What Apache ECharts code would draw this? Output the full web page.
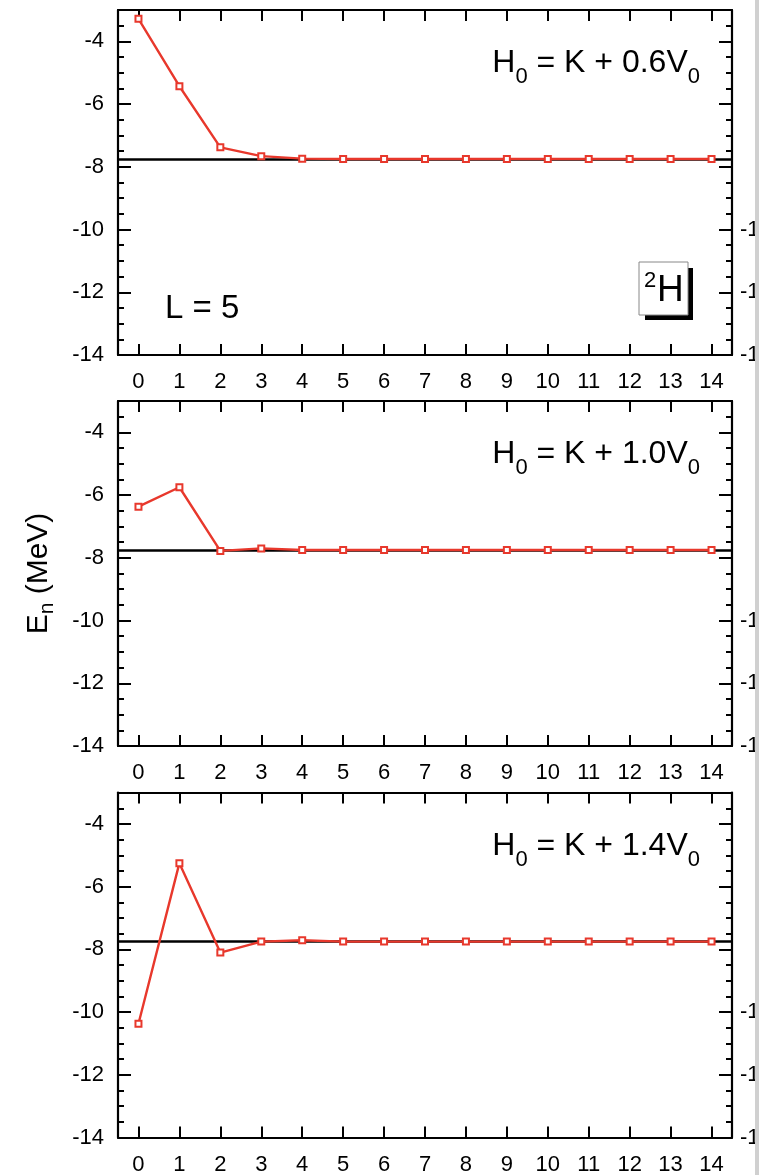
<!DOCTYPE html>
<html>
<head>
<meta charset="utf-8">
<script src="https://cdn.jsdelivr.net/npm/echarts@6/dist/echarts.min.js"></script>
<style>
  html, body { margin: 0; padding: 0; background: #fff; }
  #chart { width: 759px; height: 1175px; }
</style>
</head>
<body>
<div id="chart"></div>
<script>
// iteration index n on the x axis
const steps = ["0", "1", "2", "3", "4", "5", "6", "7", "8", "9", "10", "11", "12", "13", "14"];

// E_n (MeV) for the three starting Hamiltonians
const energies06 = [-3.28, -5.43, -7.38, -7.66, -7.74, -7.75, -7.75, -7.75, -7.75, -7.75, -7.75, -7.75, -7.75, -7.75, -7.75];
const energies10 = [-6.37, -5.75, -7.78, -7.70, -7.75, -7.75, -7.75, -7.75, -7.75, -7.75, -7.75, -7.75, -7.75, -7.75, -7.75];
const energies14 = [-10.37, -5.25, -8.10, -7.75, -7.71, -7.75, -7.75, -7.75, -7.75, -7.75, -7.75, -7.75, -7.75, -7.75, -7.75];

// exact deuteron energy (black reference line)
const exactEnergy = -7.75;

const panelTitles = [
  "H{s|0} = K + 0.6V{s|0}",
  "H{s|0} = K + 1.0V{s|0}",
  "H{s|0} = K + 1.4V{s|0}"
];
const panelData = [energies06, energies10, energies14];

const FONT = "Liberation Sans";
const RED = "#e8382c";
const gridTops = [10, 401, 792.6];
const gridHeight = 345;

const chart = echarts.init(document.getElementById("chart"));

const grid = [];
const xAxis = [];
const yAxis = [];
const series = [];
const title = [];

gridTops.forEach((top, i) => {
  grid.push({ left: 118, right: 27, top: top, height: gridHeight, outerBoundsMode: "none", containLabel: false });

  ["bottom", "top"].forEach((pos) => {
    xAxis.push({
      type: "category",
      gridIndex: i,
      position: pos,
      data: steps,
      boundaryGap: true,
      axisLine: { show: true, onZero: false, lineStyle: { color: "#000", width: 2.2 } },
      axisTick: { show: true, inside: true, length: 11, alignWithLabel: true, lineStyle: { color: "#000", width: 2 } },
      axisLabel: {
        show: pos === "bottom",
        color: "#000",
        fontSize: 22,
        fontFamily: FONT,
        margin: 16
      },
      splitLine: { show: false }
    });
  });

  // left + right: major ticks (every 2) and minor ticks (every 0.5)
  ["left", "right"].forEach((pos) => {
    yAxis.push({
      type: "value",
      gridIndex: i,
      position: pos,
      min: -14,
      max: -3,
      interval: 2,
      axisLine: { show: true, onZero: false, lineStyle: { color: "#000", width: 2.2 } },
      axisTick: { show: true, inside: true, length: 13, lineStyle: { color: "#000", width: 2 } },
      axisLabel: {
        show: pos === "left",
        showMaxLabel: false,
        color: "#000",
        fontSize: 22,
        fontFamily: FONT,
        margin: 14
      },
      splitLine: { show: false },
      name: pos === "left" && i === 1 ? "E{s|n} (MeV)" : "",
      nameLocation: "middle",
      nameRotate: 90,
      nameGap: 60,
      nameTextStyle: {
        color: "#000",
        fontSize: 30,
        fontFamily: FONT,
        rich: { s: { fontSize: 21, fontFamily: FONT, color: "#000", padding: [18, 0, 0, 0] } }
      }
    });
    yAxis.push({
      type: "value",
      gridIndex: i,
      position: pos,
      min: -14,
      max: -3,
      interval: 0.5,
      axisLine: { show: false, onZero: false },
      axisTick: { show: true, inside: true, length: 6, lineStyle: { color: "#000", width: 2 } },
      axisLabel: { show: false },
      splitLine: { show: false }
    });
  });

  // clipped tick labels of the neighbouring figure at the right edge
  yAxis.push({
    type: "value",
    gridIndex: i,
    position: "right",
    min: -14,
    max: -3,
    interval: 2,
    axisLine: { show: false, onZero: false },
    axisTick: { show: false },
    axisLabel: {
      show: true,
      showMaxLabel: false,
      color: "#000",
      fontSize: 22,
      fontFamily: FONT,
      margin: 8,
      formatter: (v) => (v <= -10 ? String(v) : "")
    },
    splitLine: { show: false }
  });

  series.push({
    type: "line",
    xAxisIndex: i * 2,
    yAxisIndex: i * 5,
    data: [],
    silent: true,
    markLine: {
      silent: true,
      symbol: "none",
      label: { show: false },
      lineStyle: { color: "#000", width: 2.5, type: "solid" },
      data: [{ yAxis: exactEnergy }]
    }
  });

  series.push({
    type: "line",
    xAxisIndex: i * 2,
    yAxisIndex: i * 5,
    data: panelData[i],
    z: 10,
    symbol: "emptyRect",
    symbolSize: 6,
    showAllSymbol: true,
    lineStyle: { color: RED, width: 2.4 },
    itemStyle: { color: RED, borderWidth: 1.5 }
  });

  title.push({
    text: panelTitles[i],
    right: 54,
    top: top + 24,
    textStyle: {
      color: "#000",
      fontSize: 32,
      fontWeight: "normal",
      fontFamily: FONT,
      rich: { s: { fontSize: 22, fontFamily: FONT, color: "#000", padding: [27, 0, 0, 0] } }
    }
  });
});

chart.setOption({
  animation: false,
  backgroundColor: "#fff",
  title: title,
  grid: grid,
  xAxis: xAxis,
  yAxis: yAxis,
  series: series,
  graphic: [
    {
      type: "text",
      left: 165,
      top: 292,
      style: { text: "L = 5", fill: "#000", fontSize: 33, fontFamily: FONT }
    },
    {
      type: "rect",
      shape: { x: 645, y: 268, width: 48, height: 52 },
      style: { fill: "#000" }
    },
    {
      type: "rect",
      shape: { x: 639, y: 262, width: 49, height: 53 },
      style: { fill: "#fff", stroke: "#888", lineWidth: 1 }
    },
    {
      type: "text",
      x: 644,
      y: 270,
      style: { text: "2", fill: "#000", fontSize: 22, fontFamily: FONT }
    },
    {
      type: "text",
      x: 657,
      y: 272,
      style: { text: "H", fill: "#000", fontSize: 37, fontFamily: FONT }
    },
    {
      type: "rect",
      z: 100,
      shape: { x: 755, y: 0, width: 4, height: 1175 },
      style: { fill: "#d0d0d0" }
    }
  ]
});
</script>
</body>
</html>
